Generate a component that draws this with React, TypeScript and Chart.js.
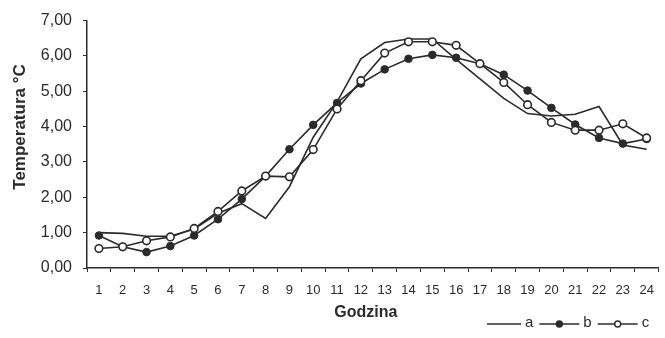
import React, { useEffect, useRef } from "react";
import { Chart, registerables } from "chart.js";

Chart.register(...registerables);

const hours = ["1","2","3","4","5","6","7","8","9","10","11","12","13","14","15","16","17","18","19","20","21","22","23","24"];
const seriesA = [1.0, 0.98, 0.9, 0.9, 1.1, 1.55, 1.82, 1.4, 2.3, 3.7, 4.7, 5.92, 6.38, 6.48, 6.48, 5.9, 5.35, 4.8, 4.37, 4.3, 4.35, 4.57, 3.48, 3.36];
const seriesB = [0.92, 0.6, 0.45, 0.62, 0.92, 1.38, 1.95, 2.6, 3.36, 4.05, 4.67, 5.22, 5.62, 5.92, 6.03, 5.95, 5.78, 5.47, 5.02, 4.53, 4.06, 3.68, 3.52, 3.65];
const seriesC = [0.55, 0.6, 0.77, 0.88, 1.12, 1.6, 2.18, 2.6, 2.58, 3.35, 4.5, 5.3, 6.08, 6.4, 6.4, 6.3, 5.78, 5.25, 4.62, 4.12, 3.9, 3.9, 4.08, 3.68];
const seriesNames = ["a", "b", "c"];
const yMin = 0;
const yMax = 7;
const yStep = 1;
const xTitle = "Godzina";
const yTitle = "Temperatura °C";

const INK = "#2b2b2b";
const FONT = "'Liberation Sans', Arial, sans-serif";

const decorPlugin = {
  id: "decor",
  afterDraw(chart: any) {
    const { ctx, chartArea } = chart;
    ctx.save();
    ctx.fillStyle = INK;
    ctx.strokeStyle = INK;
    // y title
    ctx.font = `bold 17px ${FONT}`;
    ctx.textAlign = "center";
    ctx.textBaseline = "middle";
    ctx.save();
    ctx.translate(20, chartArea.top + (chartArea.bottom - chartArea.top) * 0.43);
    ctx.rotate(-Math.PI / 2);
    ctx.fillText(yTitle, 0, 0);
    ctx.restore();
    // x title
    ctx.font = `bold 16px ${FONT}`;
    ctx.fillText(xTitle, chartArea.left + (chartArea.right - chartArea.left) * 0.488, chartArea.bottom + 45);
    // legend
    const ly = chartArea.bottom + 56;
    ctx.font = `15px ${FONT}`;
    ctx.textAlign = "left";
    ctx.lineWidth = 1.4;
    let x = chartArea.left + 400;
    const items = [
      { name: seriesNames[0], marker: "none" },
      { name: seriesNames[1], marker: "filled" },
      { name: seriesNames[2], marker: "open" },
    ];
    items.forEach((it, i) => {
      const len = i === 0 ? 34 : 40;
      ctx.beginPath();
      ctx.moveTo(x, ly);
      ctx.lineTo(x + len, ly);
      ctx.stroke();
      if (it.marker !== "none") {
        ctx.beginPath();
        ctx.arc(x + len / 2, ly, 3, 0, Math.PI * 2);
        ctx.fillStyle = it.marker === "filled" ? INK : "#fff";
        ctx.fill();
        ctx.stroke();
        ctx.fillStyle = INK;
      }
      ctx.fillText(it.name, x + len + 4, ly - 1);
      x += len + 4 + ctx.measureText(it.name).width + 6;
    });
    ctx.restore();
  },
};

export default function App() {
  const ref = useRef<HTMLCanvasElement | null>(null);
  useEffect(() => {
    document.body.style.margin = "0";
    const chart = new Chart(ref.current as HTMLCanvasElement, {
      type: "line",
      data: {
        labels: hours,
        datasets: [
          {
            label: seriesNames[0],
            data: seriesA,
            borderColor: INK,
            borderWidth: 1.6,
            pointRadius: 0,
            tension: 0,
            order: 2,
          },
          {
            label: seriesNames[1],
            data: seriesB,
            borderColor: INK,
            borderWidth: 1.6,
            pointRadius: 3.8,
            pointBackgroundColor: INK,
            pointBorderColor: INK,
            pointBorderWidth: 1,
            tension: 0,
            order: 1,
          },
          {
            label: seriesNames[2],
            data: seriesC,
            borderColor: INK,
            borderWidth: 1.6,
            pointRadius: 3.8,
            pointBackgroundColor: "#ffffff",
            pointBorderColor: INK,
            pointBorderWidth: 1.6,
            tension: 0,
            order: 0,
          },
        ],
      },
      options: {
        animation: false,
        responsive: false,
        maintainAspectRatio: false,
        layout: { padding: { top: 20, right: 1, left: 0, bottom: 0 } },
        plugins: { legend: { display: false }, tooltip: { enabled: false } },
        scales: {
          x: {
            offset: true,
            grid: { display: true, drawOnChartArea: false, tickLength: 4, color: INK, offset: true },
            border: { color: INK, width: 1.5 },
            ticks: {
              color: INK,
              font: { family: FONT, size: 13 },
              padding: 11,
              maxRotation: 0,
              autoSkip: false,
            },
            afterFit: (s: any) => {
              s.height = 70;
            },
          },
          y: {
            min: yMin,
            max: yMax,
            grid: { display: true, drawOnChartArea: false, tickLength: 4, color: INK },
            border: { color: INK, width: 1.5 },
            ticks: {
              stepSize: yStep,
              color: INK,
              font: { family: FONT, size: 16 },
              padding: 11,
              callback: (v: any) => Number(v).toFixed(2).replace(".", ","),
            },
            afterFit: (s: any) => {
              s.width = 87;
            },
          },
        },
      },
      plugins: [decorPlugin],
    });
    return () => chart.destroy();
  }, []);
  return (
    <div style={{ position: "relative", width: 665, height: 338, background: "#fff" }}>
      <canvas ref={ref} width={665} height={338} style={{ width: 665, height: 338 }} />
    </div>
  );
}
